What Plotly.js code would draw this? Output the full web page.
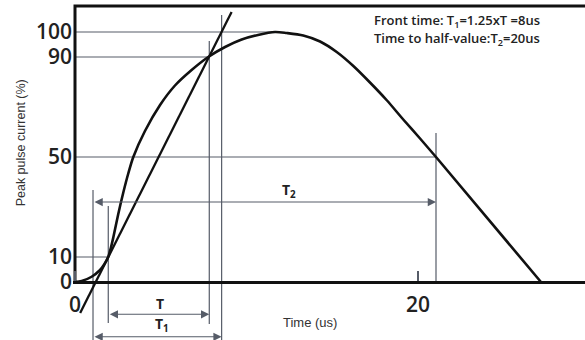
<!DOCTYPE html>
<html>
<head>
<meta charset="utf-8">
<script src="https://cdn.plot.ly/plotly-3.0.1.min.js"></script>
<style>body{margin:0;background:#fff}</style>
</head>
<body>
<div id="plot1" style="width:585px;height:340px"></div>
<script>
// surge current wave, time in us and current in % of the peak
let timeUs = [0, 0.39, 0.97, 1.46, 1.70, 1.94, 2.09, 2.23, 2.52, 2.82, 3.11, 3.40,
              4.08, 4.96, 5.83, 6.80, 7.77, 8.75, 9.72, 10.67, 11.66,
              12.34, 13.31, 14.29, 15.26, 16.23, 17.20, 18.18, 19.14, 20.12, 21.05, 27.17];
let currentPct = [0, 0.4, 2.1, 4.8, 7.0, 10.1, 13.6, 17.7, 27.1, 35.9, 43.5, 50,
                  60.4, 70.8, 78.6, 84.8, 90, 94, 97, 98.8, 100,
                  99.6, 98.6, 96.2, 92.0, 86.4, 79.8, 72.7, 65.0, 57.4, 50, 0];

// straight line through the 10% and 90% points
let tangentTime = [0.30, 9.13];
let tangentCurrent = [-12.4, 108];

// tick labels
let yTicks = [0, 10, 50, 90, 100];
let xTicks = [0, 20];

// key times
let tStart = 1.05;   // virtual origin
let t10 = 1.94;
let t90 = 7.83;
let t1End = 8.55;
let tPeak = 11.66;
let t2End = 21.05;

var guideColor = '#565c68';
var ink = '#111';

// thin guide lines, one trace, segments split by null
let gx = [], gy = [];
function seg(x0, y0, x1, y1) {
    gx.push(x0, x1, null);
    gy.push(y0, y1, null);
}
seg(0, 100, tPeak, 100);
seg(0, 90, t90, 90);
seg(0, 50, t2End, 50);
seg(0, 10, t10, 10);
seg(tStart, 36.8, tStart, -23.2);
seg(t10, 30.4, t10, -16.4);
seg(t90, 96.4, t90, -16.8);
seg(t1End, 106.8, t1End, -23.2);
seg(t2End, 59.6, t2End, 0);

let guides = {
    x: gx, y: gy, mode: 'lines', type: 'scatter',
    line: {color: guideColor, width: 1.2}, hoverinfo: 'skip'
};

let tangent = {
    x: tangentTime, y: tangentCurrent, mode: 'lines', type: 'scatter',
    line: {color: ink, width: 2.3}
};

let wave = {
    x: timeUs, y: currentPct, mode: 'lines', type: 'scatter',
    line: {color: ink, width: 2.6, shape: 'spline', smoothing: 0.8}
};

// left and top border of the drawing
let frame = {
    x: [0, 0, 30], y: [0, 110.4, 110.4], mode: 'lines', type: 'scatter',
    line: {color: ink, width: 3}
};

var data = [guides, tangent, wave, frame];

var tickFont = {family: 'Open Sans', size: 21, weight: 600, color: '#222'};
var boldFont = {family: 'Open Sans', size: 13, weight: 600, color: '#222'};
var tFont = {family: 'Open Sans', size: 14, weight: 700, color: '#222'};

// double headed dimension arrow
function dim(x0, x1, y) {
    return {
        x: x1, y: y, ax: x0, ay: y, xref: 'x', yref: 'y', axref: 'x', ayref: 'y',
        text: '', showarrow: true, arrowside: 'end+start', arrowhead: 2,
        arrowsize: 1.5, arrowwidth: 1.1, arrowcolor: guideColor,
        standoff: 0, startstandoff: 0
    };
}

function label(text, x, y, font, anchor) {
    return {
        x: x, y: y, xref: 'x', yref: 'y', text: text, showarrow: false,
        xanchor: anchor || 'center', yanchor: 'middle', font: font
    };
}

var annotations = [
    dim(tStart, t2End, 32),
    dim(t10, t90, -12.9),
    dim(tStart, t1End, -21.9),
    label('T', 4.96, -8.4, tFont),
    label('T<sub>1</sub>', 5.1, -17, tFont),
    label('T<sub>2</sub>', 12.5, 36.5, tFont),
    label('Time (us)', 13.7, -16, {family: 'Liberation Sans', size: 13, color: '#333'}),
    label('Front time: T<sub>1</sub>=1.25xT =8us', 17.32, 104.6, boldFont, 'left'),
    label('Time to half-value:T<sub>2</sub>=20us', 17.32, 97.4, boldFont, 'left'),
    {
        x: -0.12, y: 0.58, xref: 'paper', yref: 'paper', text: 'Peak pulse current (%)',
        showarrow: false, textangle: -90, font: {family: 'Liberation Sans', size: 12.5, color: '#333'}
    }
];

var layout = {
    width: 585, height: 340,
    margin: {l: 73, r: 0, t: 0, b: 0},
    paper_bgcolor: '#fff', plot_bgcolor: '#fff',
    showlegend: false,
    xaxis: {
        range: [-0.1166, 29.738], anchor: 'free', position: 0.17059,
        showgrid: false, zeroline: false, showline: true, linewidth: 3, linecolor: ink,
        tickvals: xTicks, ticktext: xTicks.map(String), ticks: 'inside', ticklen: 10,
        tickwidth: 1.4, tickcolor: guideColor, tickfont: tickFont, ticklabelstandoff: 3
    },
    yaxis: {
        range: [-23.2, 112.8], showgrid: false, zeroline: false, showline: false,
        tickvals: yTicks, ticktext: yTicks.map(String), ticks: '', tickfont: tickFont
    },
    annotations: annotations
};

Plotly.newPlot('plot1', data, layout, {staticPlot: true});
</script>
</body>
</html>
